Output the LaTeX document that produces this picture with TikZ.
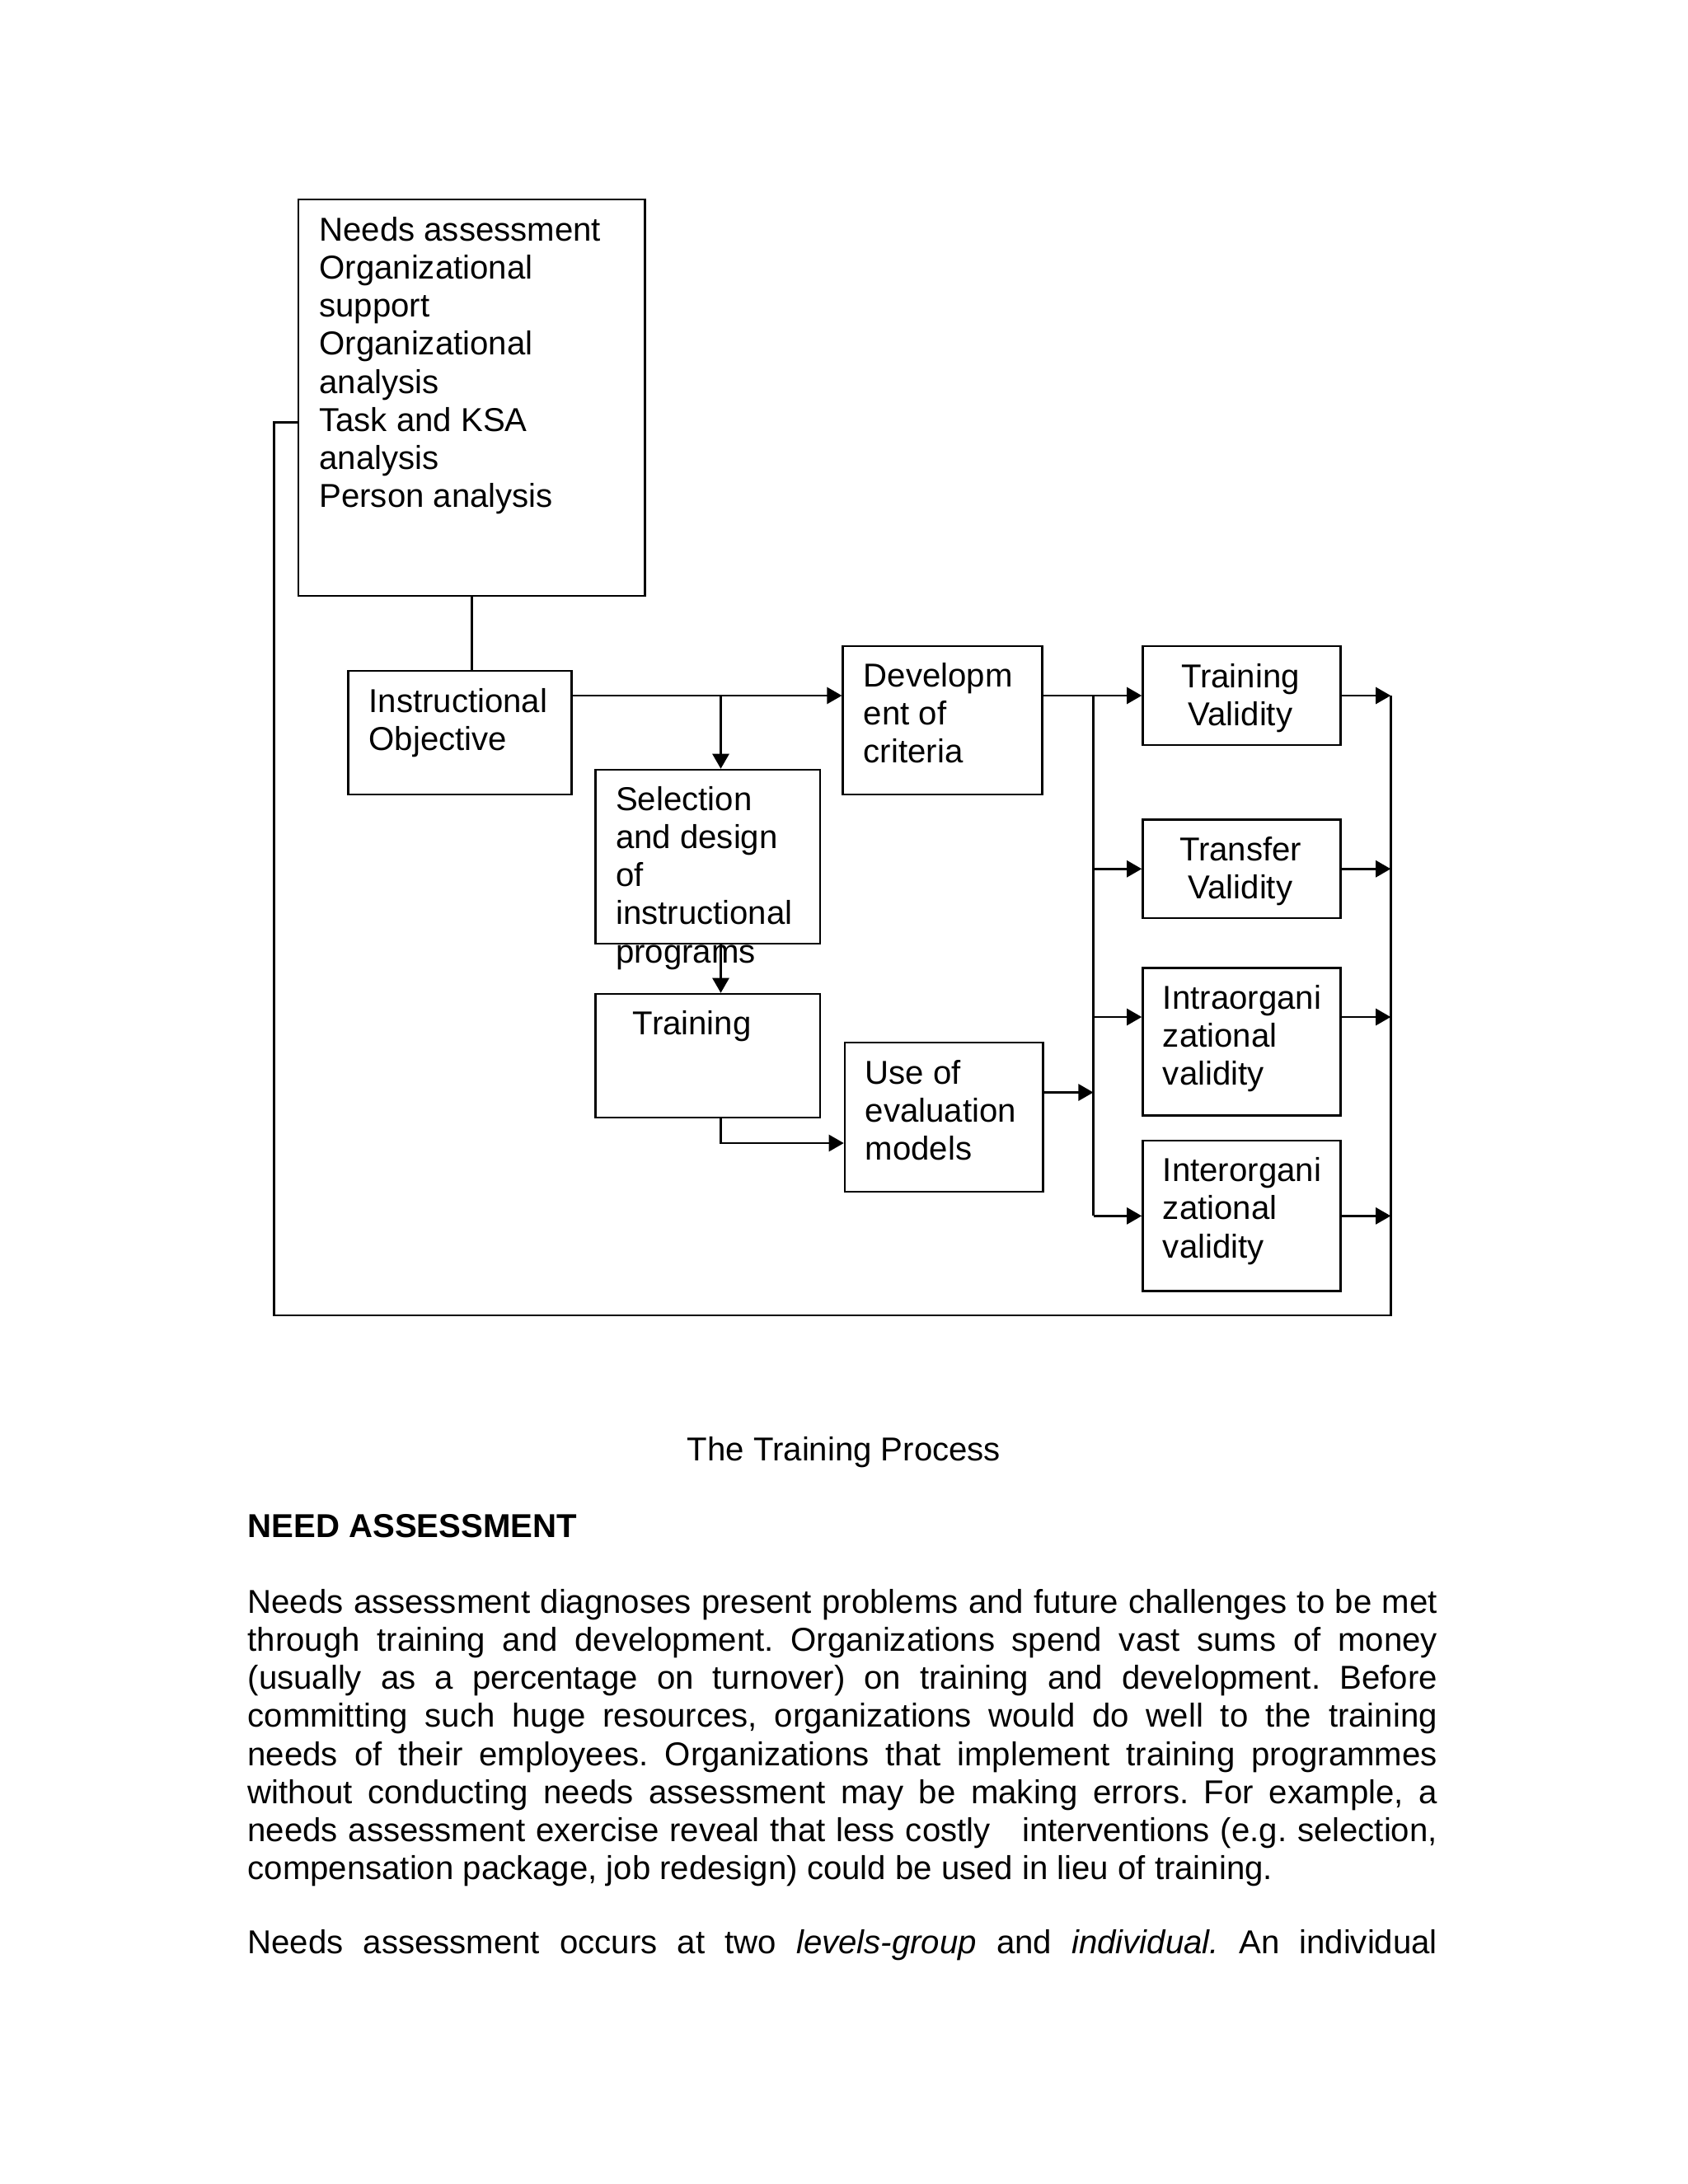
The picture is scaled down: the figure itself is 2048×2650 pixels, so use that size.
\documentclass[tikz,border=0pt]{standalone}
\usepackage{fontspec}
\setmainfont{Liberation Sans}
\usetikzlibrary{arrows.meta,fit}
\begin{document}
\frenchspacing
\begin{tikzpicture}[x=0.29883pt, y=-0.29883pt,
  box/.style={draw, line width=0.75pt, inner sep=0pt},
  txt/.style={anchor=north west, inner sep=0pt, align=left, font=\fontsize{12}{13.8}\selectfont},
  ctxt/.style={anchor=north, inner sep=0pt, align=center, font=\fontsize{12}{13.8}\selectfont},
  btxt/.style={anchor=base west, inner sep=0pt, font=\fontsize{12}{13.8}\selectfont},
  conn/.style={line width=0.75pt},
  arr/.style={conn, -{Triangle[length=5.4pt,width=6pt]}},
]
\useasboundingbox (0,0) rectangle (2048,2650);

% boxes
\node[box, fit={(362,242) (782.5,723)}] (needs) {};
\node[box, fit={(422.5,814) (693.5,964)}] (instr) {};
\node[box, fit={(1022.7,784) (1264.5,964)}] (dev) {};
\node[box, fit={(722.5,934) (995,1145)}] (sel) {};
\node[box, fit={(722.5,1206) (995,1356)}] (train) {};
\node[box, fit={(1025,1265) (1265.7,1446)}] (use) {};
\node[box, fit={(1386.5,784) (1626.7,904)}] (tv) {};
\node[box, fit={(1386.5,994.5) (1626.7,1114)}] (trv) {};
\node[box, fit={(1386.5,1174.5) (1626.7,1353.5)}] (intra) {};
\node[box, fit={(1386.5,1384) (1626.7,1566.7)}] (inter) {};

% box texts
\node[txt] (tneeds) at (386.8,259.4) {\strut Needs assessment\\Organizational\\support\\Organizational\\analysis\\Task and KSA\\analysis\\Person analysis};
\node[txt] (tinstr) at (447,831.7) {\strut Instructional\\Objective};
\node[txt] (tdev) at (1047.2,800.4) {\strut Developm\\ent of\\criteria};
\node[txt] (tsel) at (746.5,950.4) {\strut Selection\\and design\\of\\instructional\\programs};
\node[txt] (ttrain) at (767.3,1222) {\strut Training};
\node[txt] (tuse) at (1049.1,1282) {\strut Use of\\evaluation\\models};
\node[ctxt] (ttv) at (1505,801.7) {\strut Training\\Validity};
\node[ctxt] (ttrv) at (1505,1011.7) {\strut Transfer\\Validity};
\node[txt] (tintra) at (1410.3,1191.1) {\strut Intraorgani\\zational\\validity};
\node[txt] (tinter) at (1410.3,1400.7) {\strut Interorgani\\zational\\validity};

% junctions
\coordinate (j1) at (874.5,844);
\coordinate (j2) at (874.5,1387);
\coordinate (b1) at (1326.5,844);
\coordinate (b3) at (1326.5,1234);
\coordinate (b5) at (1326.5,1325.5);
\coordinate (r1) at (1687.3,844);
\coordinate (r3) at (1687.3,1234);
\coordinate (rb) at (1687.3,1596);
\coordinate (lb) at (332.5,1596);
\coordinate (lt) at (332.5,512.7);

% connectors
\draw[conn] (needs.south) -- (needs.south |- instr.north);
\draw[arr] (instr.east |- j1) -- (dev.west |- j1);
\draw[arr] (j1) -- (sel.north -| j1);
\draw[arr] (sel.south -| j1) -- (train.north -| j1);
\draw[arr] (train.south -| j2) |- (use.west |- j2);
\draw[arr] (dev.east |- b1) -- (tv.west |- b1);
\draw[conn] (b1) -- (b1 |- inter.west);
\draw[arr] (b1 |- trv.west) -- (trv.west);
\draw[arr] (b3) -- (intra.west |- b3);
\draw[arr] (b1 |- inter.west) -- (inter.west);
\draw[arr] (use.east |- b5) -- (b5);
\draw[arr] (tv.east |- r1) -- (r1);
\draw[arr] (trv.east) -- (r1 |- trv.east);
\draw[arr] (intra.east |- r3) -- (r3);
\draw[arr] (inter.east) -- (r1 |- inter.east);
\draw[conn] (r1) -- (rb) -- (lb) -- (lt) -- (needs.west |- lt);

% caption and text
\node[anchor=base, inner sep=0pt, font=\fontsize{12}{13.8}\selectfont] (cap) at (1024,1772.5) {The Training Process};
\node[btxt, font=\fontsize{12}{13.8}\selectfont\bfseries] (head) at (300,1865) {NEED ASSESSMENT};
\node[txt] (para) at (300,1924.4) {%
\makebox[431.3pt][s]{\strut Needs assessment diagnoses present problems and future challenges to be met}\\
\makebox[431.3pt][s]{through training and development. Organizations spend vast sums of money}\\
\makebox[431.3pt][s]{(usually as a percentage on turnover) on training and development. Before}\\
\makebox[431.3pt][s]{committing such huge resources, organizations would do well to the training}\\
\makebox[431.3pt][s]{needs of their employees. Organizations that implement training programmes}\\
\makebox[431.3pt][s]{without conducting needs assessment may be making errors. For example, a}\\
\makebox[431.3pt][s]{needs assessment exercise reveal that less costly\ \ \ interventions (e.g. selection,}\\
compensation package, job redesign) could be used in lieu of training.};
\node[btxt] (para2) at (300,2370) {\makebox[431.3pt][s]{Needs assessment occurs at two \textit{levels-group} and \textit{individual.} An individual}};
\end{tikzpicture}
\end{document}
